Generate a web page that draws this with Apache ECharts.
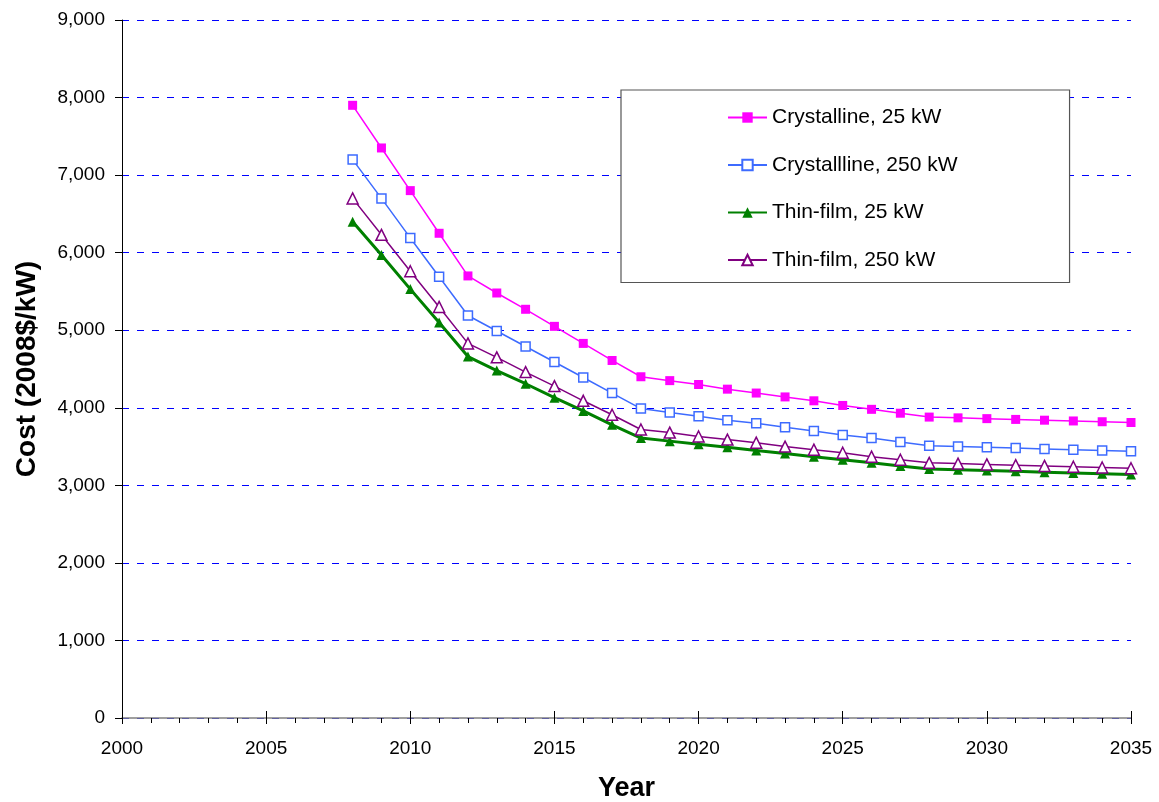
<!DOCTYPE html>
<html><head><meta charset="utf-8">
<script src="https://cdn.jsdelivr.net/npm/echarts@6/dist/echarts.min.js"></script>
<style>html,body{margin:0;padding:0;background:#fff}#c{width:1159px;height:802px}</style>
</head><body><div id="c"></div>
<script>
const years = [2008,2009,2010,2011,2012,2013,2014,2015,2016,2017,2018,2019,2020,2021,2022,2023,2024,2025,2026,2027,2028,2029,2030,2031,2032,2033,2034,2035];
const crystalline25 = [7900,7350,6800,6250,5700,5480,5270,5050,4830,4610,4400,4350,4300,4240,4190,4140,4090,4030,3980,3930,3880,3870,3860,3850,3840,3830,3820,3810];
const crystalline250 = [7200,6700,6190,5690,5190,4990,4790,4590,4390,4190,3990,3940,3890,3840,3800,3750,3700,3650,3610,3560,3510,3500,3490,3480,3470,3460,3450,3440];
const thinFilm25 = [6400,5970,5530,5100,4660,4480,4310,4130,3960,3780,3610,3570,3530,3490,3450,3410,3370,3330,3290,3250,3210,3200,3190,3180,3170,3160,3150,3140];
const thinFilm250 = [6700,6230,5760,5300,4830,4650,4460,4280,4090,3910,3720,3680,3630,3590,3550,3500,3460,3420,3370,3330,3290,3280,3270,3260,3250,3240,3230,3220];
const seriesNames = ['Crystalline, 25 kW','Crystallline, 250 kW','Thin-film, 25 kW','Thin-film, 250 kW'];
const xTitle = 'Year';
const yTitle = 'Cost (2008$/kW)';

const pair = arr => years.map((y,i)=>[y,arr[i]]);
const FONT = '"Liberation Sans", Arial, sans-serif';
const fmtComma = v => String(v).replace(/\B(?=(\d{3})+(?!\d))/g, ',');

const chart = echarts.init(document.getElementById('c'), null, {renderer:'canvas'});
chart.setOption({
  backgroundColor:'#fff',
  animation:false,
  grid:{left:122,right:28,top:20,bottom:84,outerBoundsMode:'none',containLabel:false},
  legend:{
    orient:'vertical', left:621, top:90,
    padding:[17,112,12,106],
    itemWidth:39, itemHeight:13, itemGap:26.5,
    backgroundColor:'#fff', borderColor:'#555', borderWidth:1.2,
    textStyle:{fontFamily:FONT,fontSize:21,color:'#000',padding:[0,0,0,0]},
    data:seriesNames
  },
  xAxis:[{
    type:'value', min:2000, max:2035, interval:5,
    axisLine:{show:true,onZero:false,lineStyle:{color:'#808080',width:1.5}},
    axisTick:{show:true,length:6,inside:false,lineStyle:{color:'#000'}},
    minorTick:{show:true,splitNumber:5,length:5,lineStyle:{color:'#000'}},
    splitLine:{show:false},
    axisLabel:{formatter:v=>String(v),fontFamily:FONT,fontSize:19,color:'#000',margin:21},
    name:xTitle, nameLocation:'middle', nameGap:57,
    nameTextStyle:{fontFamily:FONT,fontSize:27,fontWeight:'bold',color:'#000'}
  },{
    type:'value', min:2000, max:2035, interval:5, position:'bottom',
    axisLine:{show:false}, axisLabel:{show:false}, splitLine:{show:false},
    axisTick:{show:true,inside:true,length:7,lineStyle:{color:'#000'}}
  }],
  yAxis:{
    type:'value', min:0, max:9000, interval:1000,
    axisLine:{show:true,lineStyle:{color:'#000',width:1}},
    axisTick:{show:true,length:7,lineStyle:{color:'#000'}},
    splitLine:{show:true,lineStyle:{color:'#0000ff',width:1,type:[7,8]}},
    axisLabel:{formatter:fmtComma,fontFamily:FONT,fontSize:19,color:'#000',margin:17},
    name:yTitle, nameLocation:'middle', nameGap:81,
    nameTextStyle:{fontFamily:FONT,fontSize:28,fontWeight:'bold',color:'#000'}
  },
  series:[
    {name:seriesNames[0],type:'line',data:pair(crystalline25),symbol:'rect',symbolSize:9,
     lineStyle:{color:'#ff00ff',width:1.5},itemStyle:{color:'#ff00ff'},z:4},
    {name:seriesNames[1],type:'line',data:pair(crystalline250),symbol:'rect',symbolSize:9,
     lineStyle:{color:'#3d6bff',width:1.5},itemStyle:{color:'#fff',borderColor:'#3d6bff',borderWidth:1.5},z:3},
    {name:seriesNames[2],type:'line',data:pair(thinFilm25),symbol:'triangle',symbolSize:10,
     lineStyle:{color:'#008000',width:3},itemStyle:{color:'#008000'},z:1},
    {name:seriesNames[3],type:'line',data:pair(thinFilm250),symbol:'triangle',symbolSize:11,
     lineStyle:{color:'#800080',width:1.5},itemStyle:{color:'#fff',borderColor:'#800080',borderWidth:1.5},z:2}
  ]
});
</script></body></html>
